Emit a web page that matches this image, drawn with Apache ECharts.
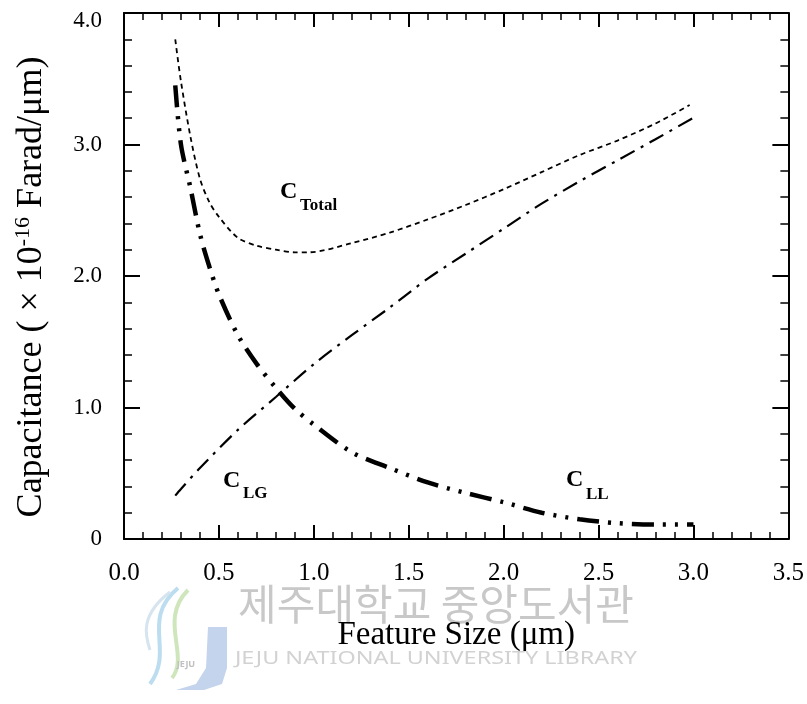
<!DOCTYPE html>
<html>
<head>
<meta charset="utf-8">
<script src="https://cdn.jsdelivr.net/npm/echarts@6/dist/echarts.min.js"></script>
<style>
html,body{margin:0;padding:0;background:#fff;}
#chart{width:807px;height:704px;}
</style>
</head>
<body>
<div id="chart"></div>
<script>
// ---- data ----
var totalX = [0.27, 0.30, 0.35, 0.40, 0.45, 0.50, 0.60, 0.70, 0.80, 0.90, 0.97, 1.20, 1.40, 1.60, 1.80, 2.00, 2.20, 2.40, 2.60, 2.80, 2.98];
var totalY = [3.80, 3.48, 3.06, 2.74, 2.56, 2.45, 2.29, 2.23, 2.20, 2.18, 2.18, 2.25, 2.33, 2.43, 2.54, 2.66, 2.79, 2.92, 3.03, 3.16, 3.30];

var llX = [0.27, 0.30, 0.35, 0.40, 0.45, 0.50, 0.60, 0.70, 0.80, 0.90, 1.00, 1.20, 1.40, 1.60, 1.80, 2.00, 2.20, 2.40, 2.60, 2.80, 3.00];
var llY = [3.45, 3.00, 2.67, 2.32, 2.07, 1.86, 1.55, 1.33, 1.15, 0.99, 0.87, 0.66, 0.54, 0.43, 0.35, 0.28, 0.20, 0.15, 0.12, 0.11, 0.11];

var lgX = [0.27, 0.30, 0.40, 0.60, 0.80, 1.00, 1.20, 1.40, 1.60, 1.80, 2.00, 2.20, 2.40, 2.60, 2.80, 3.02];
var lgY = [0.33, 0.38, 0.54, 0.83, 1.08, 1.33, 1.55, 1.76, 1.98, 2.17, 2.36, 2.55, 2.72, 2.88, 3.04, 3.22];

var xTicks = ['0.0', '0.5', '1.0', '1.5', '2.0', '2.5', '3.0', '3.5'];
var yTicks = ['0', '1.0', '2.0', '3.0', '4.0'];

function pairs(xs, ys) { return xs.map(function (x, i) { return [x, ys[i]]; }); }

var SERIF = 'Liberation Serif';
var chart = echarts.init(document.getElementById('chart'));

function xAxisDef(pos, showLabels) {
  return {
    type: 'value', position: pos, min: 0, max: 3.5, interval: 0.5,
    axisLine: { show: true, onZero: false, lineStyle: { color: '#000', width: 2 } },
    axisTick: { show: true, inside: true, length: 14, lineStyle: { color: '#000', width: 2 } },
    minorTick: { show: true, splitNumber: 5, length: 7, lineStyle: { color: '#000', width: 1.5 } },
    splitLine: { show: false },
    axisLabel: {
      show: showLabels, margin: 22, color: '#000', fontFamily: SERIF, fontSize: 25,
      formatter: function (v) { return xTicks[Math.round(v / 0.5)]; }
    },
    name: showLabels ? 'Feature Size (\u03bcm)' : '',
    nameLocation: 'middle', nameGap: 80,
    nameTextStyle: { color: '#000', fontFamily: SERIF, fontSize: 33 }
  };
}
function yAxisDef(pos, showLabels) {
  return {
    type: 'value', position: pos, min: 0, max: 4, interval: 1,
    axisLine: { show: true, onZero: false, lineStyle: { color: '#000', width: 2 } },
    axisTick: { show: true, inside: true, length: 16, lineStyle: { color: '#000', width: 2 } },
    minorTick: { show: true, splitNumber: 5, length: 8, lineStyle: { color: '#000', width: 1.5 } },
    splitLine: { show: false },
    axisLabel: {
      show: showLabels, margin: 22, color: '#000', fontFamily: SERIF, fontSize: 23,
      formatter: function (v) {
        var i = Math.round(v);
        return i === 4 ? '{top|' + yTicks[i] + '}' : yTicks[i];
      },
      rich: { top: { fontFamily: SERIF, fontSize: 23, color: '#000', padding: [15, 0, 0, 0] } }
    }
  };
}

var cStyle = { fill: '#000', font: 'bold 24px "Liberation Serif"', align: 'left', verticalAlign: 'middle' };
var sStyle = { fill: '#000', font: 'bold 17px "Liberation Serif"', align: 'left', verticalAlign: 'middle' };
function lbl(x, y, text, style) {
  return { type: 'text', z: 10, x: x, y: y, style: Object.assign({ text: text }, style) };
}

var option = {
  backgroundColor: '#fff',
  animation: false,
  grid: { left: 124, right: 15, top: 13, bottom: 165, containLabel: false },
  xAxis: [xAxisDef('bottom', true), xAxisDef('top', false)],
  yAxis: [yAxisDef('left', true), yAxisDef('right', false)],
  series: [
    {
      name: 'C_Total', type: 'line', data: pairs(totalX, totalY), showSymbol: false, smooth: 0.3,
      lineStyle: { color: '#000', width: 1.8, type: [5, 4], cap: 'butt' }
    },
    {
      name: 'C_LL', type: 'line', data: pairs(llX, llY), showSymbol: false, smooth: 0.3,
      lineStyle: { color: '#000', width: 4.5, type: [22, 9, 3, 9, 3, 9], cap: 'butt' }
    },
    {
      name: 'C_LG', type: 'line', data: pairs(lgX, lgY), showSymbol: false, smooth: 0.3,
      lineStyle: { color: '#000', width: 2.2, type: [16, 7, 3, 7], cap: 'butt' }
    }
  ],
  graphic: [
    // watermark logo
    { type: 'polygon', z: 0, shape: { points: [[208, 627], [227, 627], [227, 668], [222, 684], [204, 690], [176, 690], [196, 684], [206, 668]] },
      style: { fill: '#c3d4ec' } },
    { type: 'bezierCurve', z: 0, shape: { x1: 178, y1: 588, cpx1: 140, cpy1: 620, cpx2: 175, cpy2: 650, x2: 150, y2: 684 },
      style: { fill: null, stroke: '#bcdcef', lineWidth: 4 } },
    { type: 'bezierCurve', z: 0, shape: { x1: 188, y1: 590, cpx1: 158, cpy1: 620, cpx2: 190, cpy2: 655, x2: 172, y2: 678 },
      style: { fill: null, stroke: '#cfe6bd', lineWidth: 4 } },
    { type: 'bezierCurve', z: 0, shape: { x1: 170, y1: 592, cpx1: 140, cpy1: 615, cpx2: 145, cpy2: 635, x2: 150, y2: 650 },
      style: { fill: null, stroke: '#d6e4f0', lineWidth: 3 } },
    { type: 'text', z: 0, x: 186, y: 664, style: { text: 'JEJU', fill: '#c0c0c0', font: 'bold 9px "Noto Sans"', align: 'center', verticalAlign: 'middle' } },
    // watermark text
    { type: 'text', z: 0, x: 436, y: 604, style: { text: '제주대학교 중앙도서관', fill: '#c8c8c8', font: '42px "Noto Sans CJK KR"', align: 'center', verticalAlign: 'middle' } },
    { type: 'text', z: 0, x: 436, y: 659, scaleX: 1.3, style: { text: 'JEJU NATIONAL UNIVERSITY LIBRARY', fill: '#d2d2d2', font: '18px "Noto Sans"', align: 'center', verticalAlign: 'middle' } },
    // y axis title
    { type: 'text', z: 10, x: 32, y: 287, rotation: Math.PI / 2,
      style: {
        text: 'Capacitance ( \u00d7 10{sup|-16} Farad/\u03bcm)',
        align: 'center', verticalAlign: 'middle',
        font: '36px "Liberation Serif"', fill: '#000', lineHeight: 40,
        rich: { sup: { fontSize: 22, fontFamily: SERIF, color: '#000', verticalAlign: 'top', lineHeight: 40 } }
      } },
    // curve labels
    lbl(280, 192, 'C', cStyle), lbl(300, 206, 'Total', sStyle),
    lbl(223, 481, 'C', cStyle), lbl(243, 494, 'LG', sStyle),
    lbl(566, 480, 'C', cStyle), lbl(586, 495, 'LL', sStyle)
  ]
};
chart.setOption(option);
</script>
</body>
</html>
